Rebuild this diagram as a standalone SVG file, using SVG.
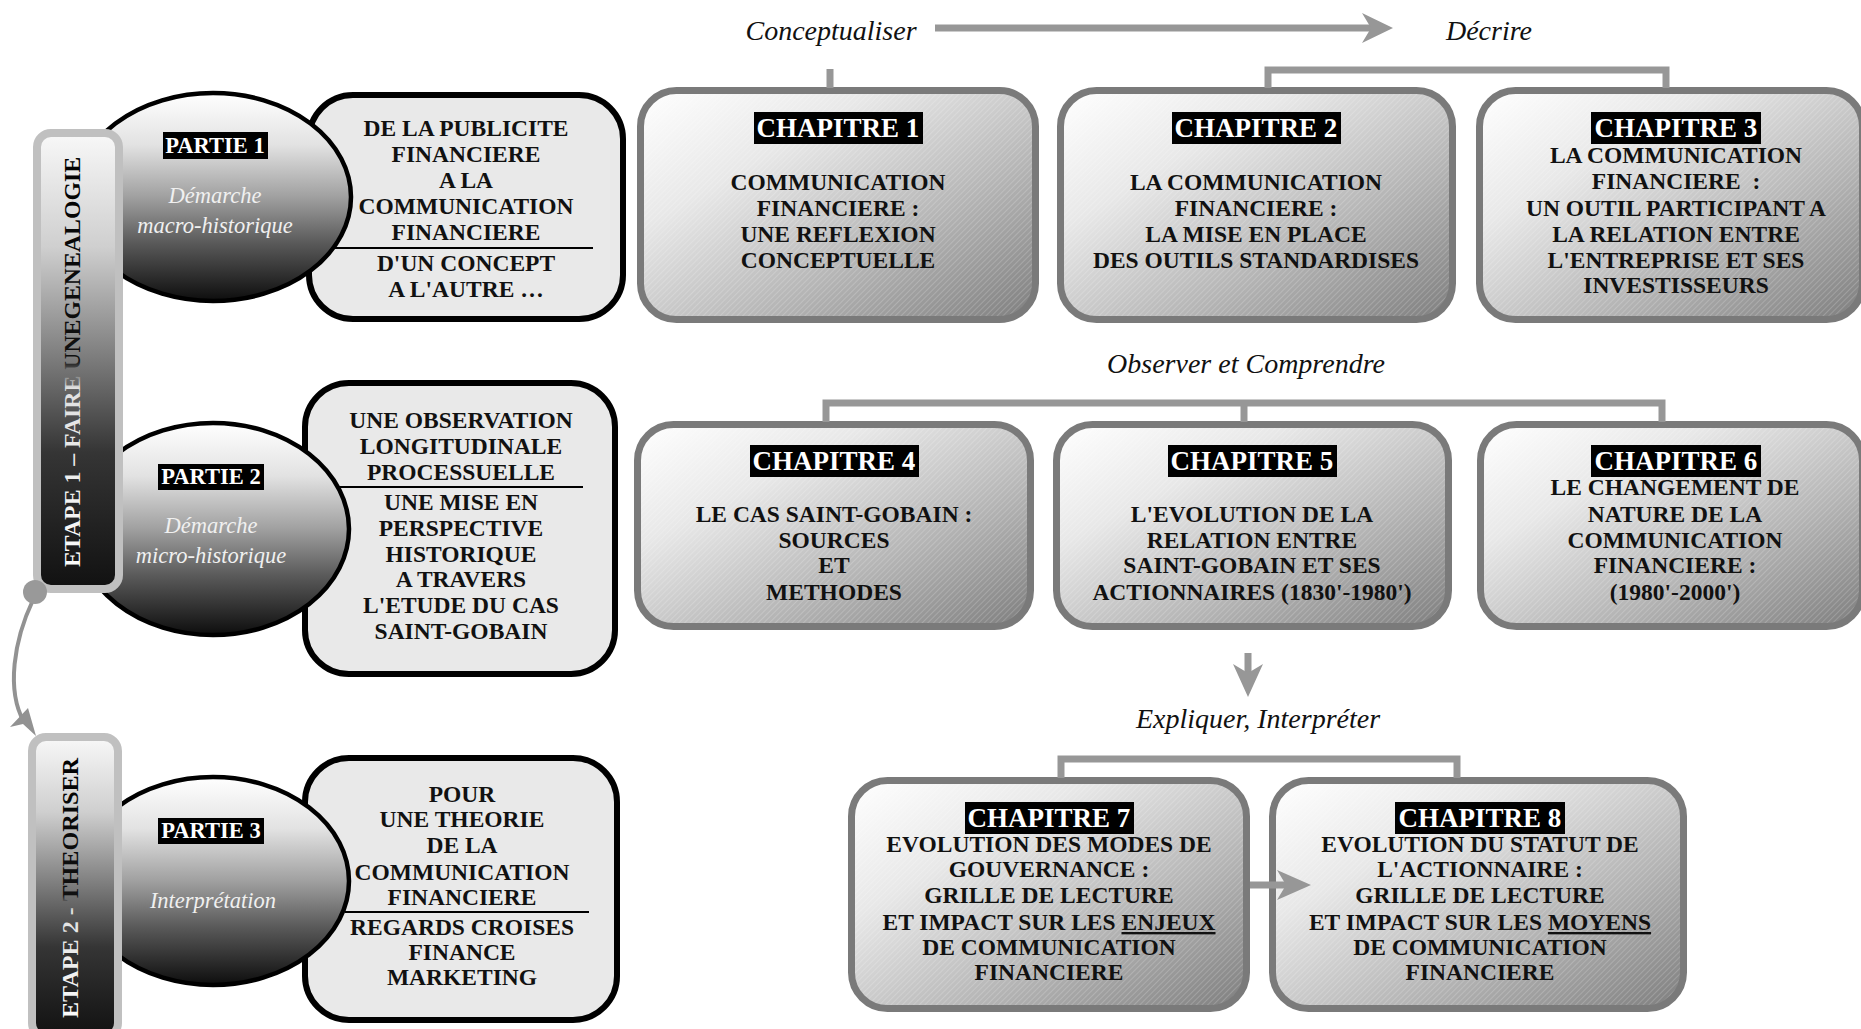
<svg xmlns="http://www.w3.org/2000/svg" width="1861" height="1029" viewBox="0 0 1861 1029">
<defs>
<style>
.bt{font-family:"Liberation Serif",serif;font-weight:bold;font-size:23.5px;fill:#111;text-anchor:middle}
.lbl{font-family:"Liberation Serif",serif;font-weight:bold;font-size:27px;fill:#fff;text-anchor:middle}
.plbl{font-family:"Liberation Serif",serif;font-weight:bold;font-size:22.5px;fill:#fff;text-anchor:middle}
.it{font-family:"Liberation Serif",serif;font-style:italic;font-size:28px;fill:#111;text-anchor:middle}
.eit{font-family:"Liberation Serif",serif;font-style:italic;font-size:22.5px;fill:#f0f0f0;text-anchor:middle}
.ch{fill:url(#chg);stroke:#7a7a7a;stroke-width:7}
.hat{fill:url(#hatch);stroke:none}
.pbox{fill:#e9e9e9;stroke:#000;stroke-width:6}
.ell{fill:url(#elg);stroke:#000;stroke-width:4.5}
.bar{fill:url(#barg);stroke:#c0c0c0;stroke-width:8}
.con{fill:none;stroke:#979797;stroke-width:7}
.rule{stroke:#000;stroke-width:2}
.etape{font-family:"Liberation Serif",serif;font-weight:bold;font-size:24px;text-anchor:middle}
</style>
<linearGradient id="chg" x1="0" y1="0" x2="1" y2="1">
<stop offset="0" stop-color="#ffffff"/>
<stop offset="0.3" stop-color="#e8e8e8"/>
<stop offset="0.65" stop-color="#b5b5b5"/>
<stop offset="1" stop-color="#7e7e7e"/>
</linearGradient>
<pattern id="hatch" width="4" height="4" patternUnits="userSpaceOnUse" patternTransform="rotate(45)">
<line x1="0" y1="0" x2="0" y2="4" stroke="#ffffff" stroke-width="1.2" opacity="0.3"/>
</pattern>
<linearGradient id="elg" x1="0" y1="0" x2="0" y2="1">
<stop offset="0" stop-color="#ffffff"/>
<stop offset="0.25" stop-color="#e2e2e2"/>
<stop offset="0.5" stop-color="#a0a0a0"/>
<stop offset="0.72" stop-color="#5a5a5a"/>
<stop offset="1" stop-color="#0d0d0d"/>
</linearGradient>
<linearGradient id="barg" x1="0" y1="0" x2="0" y2="1">
<stop offset="0" stop-color="#f8f8f8"/>
<stop offset="0.25" stop-color="#cfcfcf"/>
<stop offset="0.5" stop-color="#7a7a7a"/>
<stop offset="0.7" stop-color="#353535"/>
<stop offset="1" stop-color="#111111"/>
</linearGradient>
<linearGradient id="t1g" gradientUnits="userSpaceOnUse" x1="231" y1="0" x2="-228" y2="0">
<stop offset="0" stop-color="#000"/>
<stop offset="0.5" stop-color="#111"/>
<stop offset="0.56" stop-color="#e0e0e0"/>
<stop offset="1" stop-color="#fff"/>
</linearGradient>
<linearGradient id="t2g" gradientUnits="userSpaceOnUse" x1="155" y1="0" x2="-141" y2="0">
<stop offset="0" stop-color="#000"/>
<stop offset="0.55" stop-color="#111"/>
<stop offset="0.6" stop-color="#e0e0e0"/>
<stop offset="1" stop-color="#fff"/>
</linearGradient>
</defs>
<rect width="1861" height="1029" fill="#fff"/>

<!-- Partie boxes -->
<g id="partie1">
<rect class="pbox" x="309" y="95" width="314" height="224" rx="44"/>
<ellipse class="ell" cx="213" cy="197" rx="138" ry="104"/>
<rect x="163" y="132" width="105" height="27" fill="#000"/>
<text class="plbl" x="215" y="153">PARTIE 1</text>
<text class="eit" x="215" y="203">Démarche</text>
<text class="eit" x="215" y="233">macro-historique</text>
<text class="bt" x="466" y="136">DE LA PUBLICITE</text>
<text class="bt" x="466" y="162">FINANCIERE</text>
<text class="bt" x="466" y="188">A LA</text>
<text class="bt" x="466" y="214">COMMUNICATION</text>
<text class="bt" x="466" y="240">FINANCIERE</text>
<line class="rule" x1="331" y1="248" x2="593" y2="248"/>
<text class="bt" x="466" y="271">D'UN CONCEPT</text>
<text class="bt" x="466" y="297">A L'AUTRE …</text>
</g>

<g id="partie2">
<rect class="pbox" x="305" y="383" width="310" height="291" rx="44"/>
<ellipse class="ell" cx="213" cy="529" rx="136" ry="106"/>
<rect x="158" y="464" width="106" height="26" fill="#000"/>
<text class="plbl" x="211" y="484">PARTIE 2</text>
<text class="eit" x="211" y="533">Démarche</text>
<text class="eit" x="211" y="563">micro-historique</text>
<text class="bt" x="461" y="428">UNE OBSERVATION</text>
<text class="bt" x="461" y="454">LONGITUDINALE</text>
<text class="bt" x="461" y="480">PROCESSUELLE</text>
<line class="rule" x1="339" y1="487" x2="583" y2="487"/>
<text class="bt" x="461" y="510">UNE MISE EN</text>
<text class="bt" x="461" y="536">PERSPECTIVE</text>
<text class="bt" x="461" y="562">HISTORIQUE</text>
<text class="bt" x="461" y="587">A TRAVERS</text>
<text class="bt" x="461" y="613">L'ETUDE DU CAS</text>
<text class="bt" x="461" y="639">SAINT-GOBAIN</text>
</g>

<g id="partie3">
<rect class="pbox" x="305" y="758" width="312" height="262" rx="44"/>
<ellipse class="ell" cx="213" cy="881" rx="136" ry="104"/>
<rect x="158" y="818" width="106" height="26" fill="#000"/>
<text class="plbl" x="211" y="838">PARTIE 3</text>
<text class="eit" x="213" y="908">Interprétation</text>
<text class="bt" x="462" y="802">POUR</text>
<text class="bt" x="462" y="827">UNE THEORIE</text>
<text class="bt" x="462" y="853">DE LA</text>
<text class="bt" x="462" y="880">COMMUNICATION</text>
<text class="bt" x="462" y="905">FINANCIERE</text>
<line class="rule" x1="345" y1="912" x2="589" y2="912"/>
<text class="bt" x="462" y="935">REGARDS CROISES</text>
<text class="bt" x="462" y="960">FINANCE</text>
<text class="bt" x="462" y="985">MARKETING</text>
</g>

<g id="etape1">
<rect class="bar" x="37" y="133" width="82" height="456" rx="14"/>
<text class="etape" transform="translate(80,362) rotate(-90)" x="0" y="0" fill="url(#t1g)" textLength="410" lengthAdjust="spacingAndGlyphs">ETAPE 1 – FAIRE UNEGENEALOGIE</text>
</g>

<g id="etape2">
<rect class="bar" x="32" y="737" width="86" height="300" rx="14"/>
<text class="etape" transform="translate(78,888) rotate(-90)" x="0" y="0" fill="url(#t2g)" textLength="260" lengthAdjust="spacingAndGlyphs">ETAPE 2 - THEORISER</text>
</g>

<!-- Chapters -->
<g id="ch1">
<rect class="ch" x="640.5" y="90.5" width="395" height="229" rx="36"/>
<rect class="hat" x="644" y="94" width="388" height="222" rx="33"/>
<rect x="754" y="112" width="169" height="32" fill="#000"/>
<text class="lbl" x="838" y="137">CHAPITRE 1</text>
<text class="bt" x="838" y="190">COMMUNICATION</text>
<text class="bt" x="838" y="216">FINANCIERE :</text>
<text class="bt" x="838" y="242">UNE REFLEXION</text>
<text class="bt" x="838" y="268">CONCEPTUELLE</text>
</g>

<g id="ch2">
<rect class="ch" x="1060.5" y="90.5" width="392" height="229" rx="36"/>
<rect class="hat" x="1064" y="94" width="385" height="222" rx="33"/>
<rect x="1172" y="112" width="169" height="32" fill="#000"/>
<text class="lbl" x="1256" y="137">CHAPITRE 2</text>
<text class="bt" x="1256" y="190">LA COMMUNICATION</text>
<text class="bt" x="1256" y="216">FINANCIERE :</text>
<text class="bt" x="1256" y="242">LA MISE EN PLACE</text>
<text class="bt" x="1256" y="268">DES OUTILS STANDARDISES</text>
</g>

<g id="ch3">
<rect class="ch" x="1479.5" y="90.5" width="383" height="229" rx="36"/>
<rect class="hat" x="1483" y="94" width="376" height="222" rx="33"/>
<rect x="1591" y="112" width="170" height="32" fill="#000"/>
<text class="lbl" x="1676" y="137">CHAPITRE 3</text>
<text class="bt" x="1676" y="163">LA COMMUNICATION</text>
<text class="bt" x="1676" y="189" xml:space="preserve">FINANCIERE  :</text>
<text class="bt" x="1676" y="216">UN OUTIL PARTICIPANT A</text>
<text class="bt" x="1676" y="242">LA RELATION ENTRE</text>
<text class="bt" x="1676" y="268">L'ENTREPRISE ET SES</text>
<text class="bt" x="1676" y="293">INVESTISSEURS</text>
</g>

<g id="ch4">
<rect class="ch" x="637.5" y="424.5" width="393" height="202" rx="36"/>
<rect class="hat" x="641" y="428" width="386" height="195" rx="33"/>
<rect x="750" y="445" width="169" height="32" fill="#000"/>
<text class="lbl" x="834" y="470">CHAPITRE 4</text>
<text class="bt" x="834" y="522">LE CAS SAINT-GOBAIN :</text>
<text class="bt" x="834" y="548">SOURCES</text>
<text class="bt" x="834" y="573">ET</text>
<text class="bt" x="834" y="600">METHODES</text>
</g>

<g id="ch5">
<rect class="ch" x="1056.5" y="424.5" width="392" height="202" rx="36"/>
<rect class="hat" x="1060" y="428" width="385" height="195" rx="33"/>
<rect x="1168" y="445" width="169" height="32" fill="#000"/>
<text class="lbl" x="1252" y="470">CHAPITRE 5</text>
<text class="bt" x="1252" y="522">L'EVOLUTION DE LA</text>
<text class="bt" x="1252" y="548">RELATION ENTRE</text>
<text class="bt" x="1252" y="573">SAINT-GOBAIN ET SES</text>
<text class="bt" x="1252" y="600">ACTIONNAIRES (1830'-1980')</text>
</g>

<g id="ch6">
<rect class="ch" x="1480.5" y="424.5" width="382" height="202" rx="36"/>
<rect class="hat" x="1484" y="428" width="375" height="195" rx="33"/>
<rect x="1591" y="445" width="170" height="32" fill="#000"/>
<text class="lbl" x="1676" y="470">CHAPITRE 6</text>
<text class="bt" x="1675" y="495">LE CHANGEMENT DE</text>
<text class="bt" x="1675" y="522">NATURE DE LA</text>
<text class="bt" x="1675" y="548">COMMUNICATION</text>
<text class="bt" x="1675" y="573">FINANCIERE :</text>
<text class="bt" x="1675" y="600">(1980'-2000')</text>
</g>

<g id="ch7">
<rect class="ch" x="851.5" y="780.5" width="395" height="228" rx="36"/>
<rect class="hat" x="855" y="784" width="388" height="221" rx="33"/>
<rect x="965" y="802" width="169" height="32" fill="#000"/>
<text class="lbl" x="1049" y="827">CHAPITRE 7</text>
<text class="bt" x="1049" y="852">EVOLUTION DES MODES DE</text>
<text class="bt" x="1049" y="877">GOUVERNANCE :</text>
<text class="bt" x="1049" y="903">GRILLE DE LECTURE</text>
<text class="bt" x="1049" y="930">ET IMPACT SUR LES <tspan text-decoration="underline">ENJEUX</tspan></text>
<text class="bt" x="1049" y="955">DE COMMUNICATION</text>
<text class="bt" x="1049" y="980">FINANCIERE</text>
</g>

<g id="ch8">
<rect class="ch" x="1272.5" y="780.5" width="411" height="228" rx="36"/>
<rect class="hat" x="1276" y="784" width="404" height="221" rx="33"/>
<rect x="1395" y="802" width="170" height="32" fill="#000"/>
<text class="lbl" x="1480" y="827">CHAPITRE 8</text>
<text class="bt" x="1480" y="852">EVOLUTION DU STATUT DE</text>
<text class="bt" x="1480" y="877">L'ACTIONNAIRE :</text>
<text class="bt" x="1480" y="903">GRILLE DE LECTURE</text>
<text class="bt" x="1480" y="930">ET IMPACT SUR LES <tspan text-decoration="underline">MOYENS</tspan></text>
<text class="bt" x="1480" y="955">DE COMMUNICATION</text>
<text class="bt" x="1480" y="980">FINANCIERE</text>
</g>

<!-- Phase labels -->
<g id="labels">
<text class="it" x="831" y="40">Conceptualiser</text>
<text class="it" x="1489" y="40">Décrire</text>
<text class="it" x="1246" y="373">Observer et Comprendre</text>
<text class="it" x="1258" y="728">Expliquer, Interpréter</text>
</g>

<!-- Connectors -->
<g id="connectors">
<line class="con" x1="935" y1="28" x2="1374" y2="28"/>
<polygon points="1362,13 1393,28 1362,43 1371,28" fill="#979797"/>
<line class="con" x1="830" y1="69" x2="830" y2="88"/>
<polyline class="con" points="1268,88 1268,70 1666,70 1666,88"/>
<polyline class="con" points="826,422 826,403 1662,403 1662,422"/>
<line class="con" x1="1244" y1="403" x2="1244" y2="422"/>
<line class="con" x1="1248" y1="653" x2="1248" y2="676" stroke-width="8"/>
<polygon points="1233,664 1248,697 1263,664 1248,673" fill="#979797"/>
<polyline class="con" points="1061,778 1061,759 1457,759 1457,778"/>
<line class="con" x1="1250" y1="885" x2="1288" y2="885" stroke-width="8"/>
<polygon points="1277,870 1311,885 1277,900 1286,885" fill="#979797"/>
<path d="M33 600 C 14 640, 6 690, 24 722" fill="none" stroke="#929292" stroke-width="4"/>
<polygon points="10,727 28,708 36,736 23,724" fill="#929292"/>
<circle cx="35" cy="592" r="12" fill="#999999"/>
</g>
</svg>
